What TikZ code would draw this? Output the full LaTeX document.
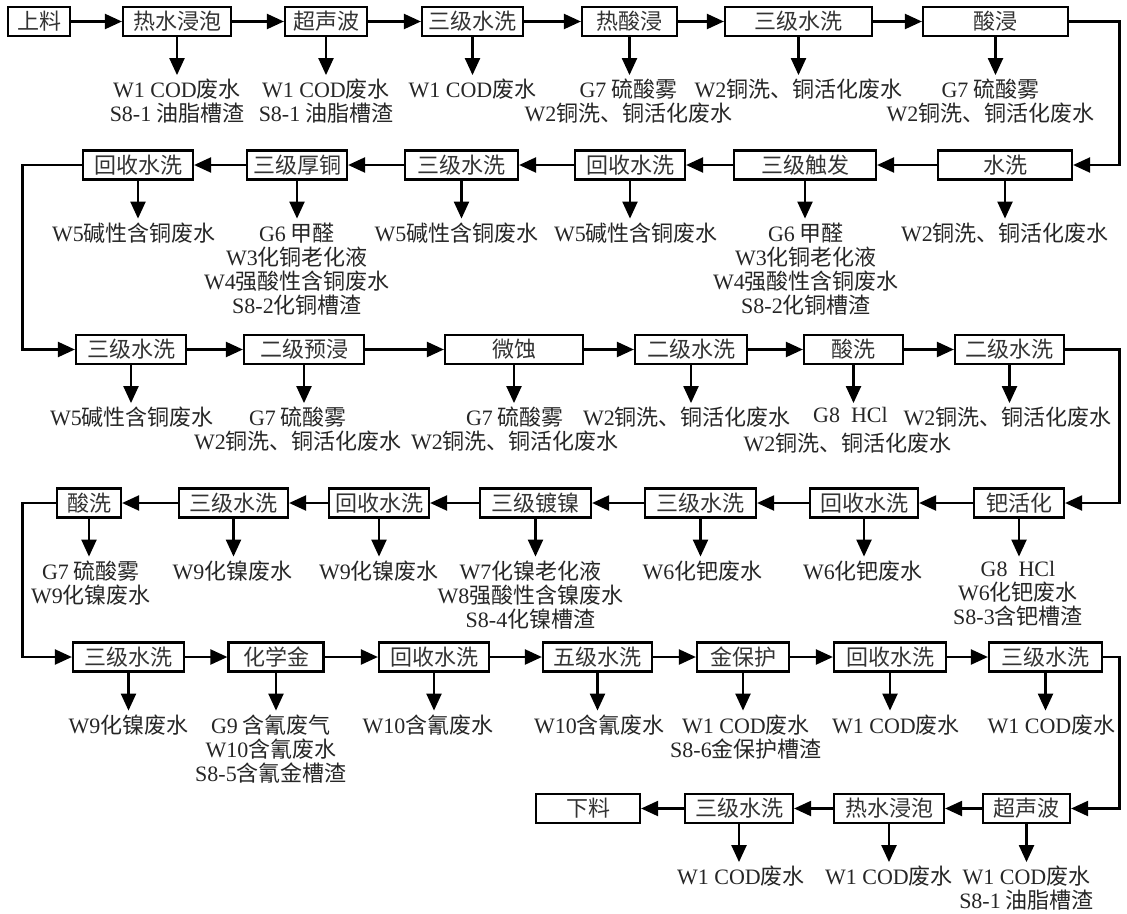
\documentclass[tikz,border=0pt]{standalone}
\usepackage{fontspec}
\setmainfont{Noto Sans CJK SC}
\newfontfamily\latf{Liberation Serif}
\newcommand\lt[1]{{\latf #1}}
\usetikzlibrary{arrows.meta}
\tikzset{
  pbox/.style={draw=black, line width=2.2pt, minimum height=29pt, inner sep=0pt, text=black!80, font=\fontsize{22}{24}\selectfont},
  lab/.style={align=center, inner sep=0pt, anchor=north, text=black!85, font=\fontsize{22}{24}\selectfont},
  arr/.style={line width=2.2pt, -{Triangle[length=17pt,width=15pt]}},
}
\newcommand\lbl[3]{%
  \node[lab] (l#1) at ([xshift=#2pt,yshift=-42pt]#1.south) {#3};
  \draw[arr, shorten >=4pt] (#1.south) -- (#1.south |- l#1.north);}
\begin{document}
\begin{tikzpicture}[x=1pt,y=-1pt]
\useasboundingbox (0,0) rectangle (1127,913);
\coordinate (rx) at (1119.5,0);
\coordinate (lx) at (22.5,0);
% Row 1
\node[pbox, minimum width=62pt]  (a1) at (39,21.5) {上料};
\node[pbox, minimum width=108pt] (a2) at (177,21.5) {热水浸泡};
\node[pbox, minimum width=82pt]  (a3) at (326,21.5) {超声波};
\node[pbox, minimum width=101pt] (a4) at (472.5,21.5) {三级水洗};
\node[pbox, minimum width=95pt]  (a5) at (629.5,21.5) {热酸浸};
\node[pbox, minimum width=147pt] (a6) at (798.5,21.5) {三级水洗};
\node[pbox, minimum width=145pt] (a7) at (995.5,21.5) {酸浸};
\foreach \u/\v in {a1/a2,a2/a3,a3/a4,a4/a5,a5/a6,a6/a7} \draw[arr] (\u) -- (\v);
\lbl{a2}{0}{\lt{W1 COD}废水\\\lt{S8-1} 油脂槽渣}
\lbl{a3}{0}{\lt{W1 COD}废水\\\lt{S8-1} 油脂槽渣}
\lbl{a4}{0}{\lt{W1 COD}废水}
\lbl{a5}{-1}{\lt{G7} 硫酸雾\\\lt{W2}铜洗、铜活化废水}
\lbl{a6}{0}{\lt{W2}铜洗、铜活化废水}
\lbl{a7}{-5}{\lt{G7} 硫酸雾\\\lt{W2}铜洗、铜活化废水}
% Row 2
\node[pbox, minimum width=110pt] (b1) at (138,165) {回收水洗};
\node[pbox, minimum width=100pt] (b2) at (297,165) {三级厚铜};
\node[pbox, minimum width=113pt] (b3) at (461.5,165) {三级水洗};
\node[pbox, minimum width=110pt] (b4) at (630,165) {回收水洗};
\node[pbox, minimum width=142pt] (b5) at (805,165) {三级触发};
\node[pbox, minimum width=134pt] (b6) at (1005,165) {水洗};
\foreach \u/\v in {b6/b5,b5/b4,b4/b3,b3/b2,b2/b1} \draw[arr] (\u) -- (\v);
\lbl{b1}{-4}{\lt{W5}碱性含铜废水}
\lbl{b2}{0}{\lt{G6} 甲醛\\\lt{W3}化铜老化液\\\lt{W4}强酸性含铜废水\\\lt{S8-2}化铜槽渣}
\lbl{b3}{-5}{\lt{W5}碱性含铜废水}
\lbl{b4}{6}{\lt{W5}碱性含铜废水}
\lbl{b5}{1}{\lt{G6} 甲醛\\\lt{W3}化铜老化液\\\lt{W4}强酸性含铜废水\\\lt{S8-2}化铜槽渣}
\lbl{b6}{0}{\lt{W2}铜洗、铜活化废水}
% Row 3
\node[pbox, minimum width=110pt] (c1) at (131,349.5) {三级水洗};
\node[pbox, minimum width=120pt] (c2) at (304,349.5) {二级预浸};
\node[pbox, minimum width=138pt] (c3) at (514,349.5) {微蚀};
\node[pbox, minimum width=112pt] (c4) at (691,349.5) {二级水洗};
\node[pbox, minimum width=99pt]  (c5) at (853.5,349.5) {酸洗};
\node[pbox, minimum width=109pt] (c6) at (1009.5,349.5) {二级水洗};
\foreach \u/\v in {c1/c2,c2/c3,c3/c4,c4/c5,c5/c6} \draw[arr] (\u) -- (\v);
\lbl{c1}{1}{\lt{W5}碱性含铜废水}
\lbl{c2}{-6}{\lt{G7} 硫酸雾\\\lt{W2}铜洗、铜活化废水}
\lbl{c3}{1}{\lt{G7} 硫酸雾\\\lt{W2}铜洗、铜活化废水}
\lbl{c4}{-4}{\lt{W2}铜洗、铜活化废水}
\lbl{c5}{-3}{\lt{G8\ \ HCl}}
\node[lab, anchor=base] (lc5b) at ([xshift=-3pt,yshift=-29pt]lc5.base) {\lt{W2}铜洗、铜活化废水};
\lbl{c6}{-2}{\lt{W2}铜洗、铜活化废水}
% Row 4
\node[pbox, minimum width=64pt]  (d1) at (89,503) {酸洗};
\node[pbox, minimum width=109pt] (d2) at (233.5,503) {三级水洗};
\node[pbox, minimum width=100pt] (d3) at (379,503) {回收水洗};
\node[pbox, minimum width=111pt] (d4) at (535.5,503) {三级镀镍};
\node[pbox, minimum width=111pt] (d5) at (700.5,503) {三级水洗};
\node[pbox, minimum width=108pt] (d6) at (864,503) {回收水洗};
\node[pbox, minimum width=90pt]  (d7) at (1019,503) {钯活化};
\foreach \u/\v in {d7/d6,d6/d5,d5/d4,d4/d3,d3/d2,d2/d1} \draw[arr] (\u) -- (\v);
\lbl{d1}{2}{\lt{G7} 硫酸雾\\\lt{W9}化镍废水}
\lbl{d2}{-1}{\lt{W9}化镍废水}
\lbl{d3}{0}{\lt{W9}化镍废水}
\lbl{d4}{-5}{\lt{W7}化镍老化液\\\lt{W8}强酸性含镍废水\\\lt{S8-4}化镍槽渣}
\lbl{d5}{2}{\lt{W6}化钯废水}
\lbl{d6}{-1}{\lt{W6}化钯废水}
\lbl{d7}{-1}{\lt{G8\ \ HCl}\\\lt{W6}化钯废水\\\lt{S8-3}含钯槽渣}
% Row 5
\node[pbox, minimum width=111pt] (e1) at (128.5,657) {三级水洗};
\node[pbox, minimum width=95pt]  (e2) at (276,657) {化学金};
\node[pbox, minimum width=110pt] (e3) at (434,657) {回收水洗};
\node[pbox, minimum width=109pt] (e4) at (597.5,657) {五级水洗};
\node[pbox, minimum width=92pt]  (e5) at (743,657) {金保护};
\node[pbox, minimum width=112pt] (e6) at (890,657) {回收水洗};
\node[pbox, minimum width=113pt] (e7) at (1045.5,657) {三级水洗};
\foreach \u/\v in {e1/e2,e2/e3,e3/e4,e4/e5,e5/e6,e6/e7} \draw[arr] (\u) -- (\v);
\lbl{e1}{0}{\lt{W9}化镍废水}
\lbl{e2}{-5}{\lt{G9} 含氰废气\\\lt{W10}含氰废水\\\lt{S8-5}含氰金槽渣}
\lbl{e3}{-6}{\lt{W10}含氰废水}
\lbl{e4}{2}{\lt{W10}含氰废水}
\lbl{e5}{3}{\lt{W1 COD}废水\\\lt{S8-6}金保护槽渣}
\lbl{e6}{6}{\lt{W1 COD}废水}
\lbl{e7}{6}{\lt{W1 COD}废水}
% Row 6
\node[pbox, minimum width=104pt] (f1) at (588,808.5) {下料};
\node[pbox, minimum width=108pt] (f2) at (739,808.5) {三级水洗};
\node[pbox, minimum width=110pt] (f3) at (889,808.5) {热水浸泡};
\node[pbox, minimum width=87pt]  (f4) at (1026.5,808.5) {超声波};
\foreach \u/\v in {f4/f3,f3/f2,f2/f1} \draw[arr] (\u) -- (\v);
\lbl{f2}{2}{\lt{W1 COD}废水}
\lbl{f3}{0}{\lt{W1 COD}废水}
\lbl{f4}{0}{\lt{W1 COD}废水\\\lt{S8-1} 油脂槽渣}
% Row-to-row connectors
\draw[arr] (a7.east) -- (a7.east -| rx) |- (b6.east);
\draw[arr] (b1.west) -- (b1.west -| lx) |- (c1.west);
\draw[arr] (c6.east) -- (c6.east -| rx) |- (d7.east);
\draw[arr] (d1.west) -- (d1.west -| lx) |- (e1.west);
\draw[arr] (e7.east) -- (e7.east -| rx) |- (f4.east);
\end{tikzpicture}
\end{document}
